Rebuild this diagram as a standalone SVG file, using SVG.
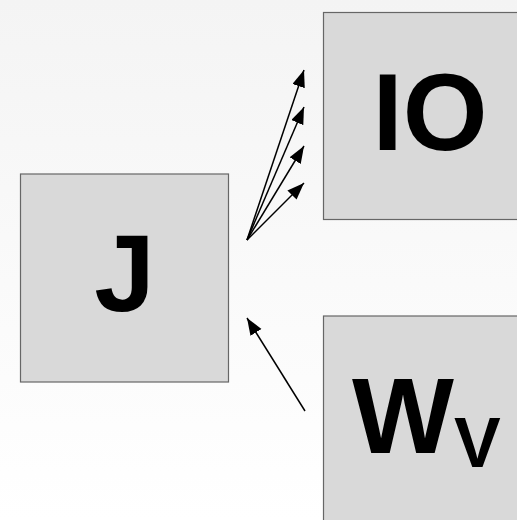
<svg xmlns="http://www.w3.org/2000/svg" width="517" height="520" viewBox="0 0 517 520">
<style>
.box{fill:#d9d9d9;stroke:#666;stroke-width:1.2}
.lbl{font-family:"Liberation Sans",Arial,sans-serif;font-weight:bold;fill:#000}
.edge{stroke:#000;stroke-width:1.5;fill:none;marker-end:url(#ah)}
</style>
<defs>
<linearGradient id="bg" x1="0" y1="0" x2="0" y2="1">
<stop offset="0" stop-color="#f4f4f4"/>
<stop offset="1" stop-color="#ffffff"/>
</linearGradient>
<marker id="ah" markerUnits="userSpaceOnUse" markerWidth="20" markerHeight="14" refX="17" refY="6.5" orient="auto">
<path d="M0,0 L17,6.5 L0,13 Z" fill="#000"/>
</marker>
</defs>
<rect x="0" y="0" width="517" height="520" fill="url(#bg)"/>
<g id="edges">
<line class="edge" x1="247" y1="240" x2="304" y2="70"/>
<line class="edge" x1="247" y1="240" x2="304" y2="107"/>
<line class="edge" x1="247" y1="240" x2="304" y2="146"/>
<line class="edge" x1="247" y1="240" x2="304" y2="183"/>
<line class="edge" x1="305" y1="411" x2="247" y2="318"/>
</g>
<g id="node-J">
<rect class="box" x="20.5" y="174" width="208" height="208"/>
<text class="lbl" x="124.5" y="311" font-size="109" text-anchor="middle">J</text>
</g>
<g id="node-IO">
<rect class="box" x="323.5" y="12.5" width="209" height="207"/>
<text class="lbl" x="430" y="150" font-size="109" text-anchor="middle">IO</text>
</g>
<g id="node-Wv">
<rect class="box" x="323.5" y="316" width="209" height="210"/>
<text class="lbl" x="352" y="453" font-size="108">W<tspan font-size="70" y="467">V</tspan></text>
</g>
</svg>
